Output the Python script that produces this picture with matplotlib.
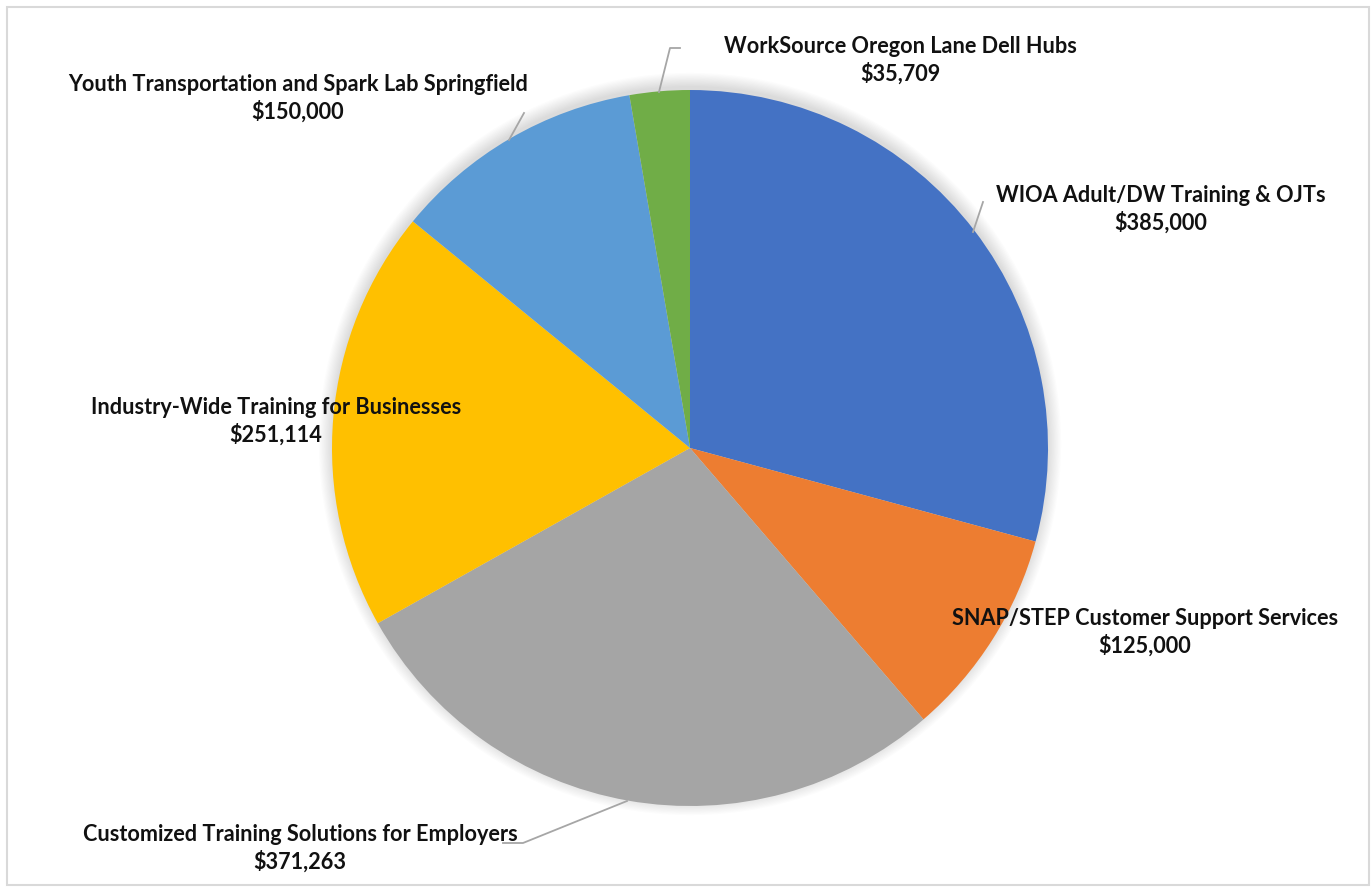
import matplotlib.pyplot as plt
from matplotlib.patches import Circle, Rectangle

# Budget allocations, clockwise from 12 o'clock
categories = [
    "WIOA Adult/DW Training & OJTs",
    "SNAP/STEP Customer Support Services",
    "Customized Training Solutions for Employers",
    "Industry-Wide Training for Businesses",
    "Youth Transportation and Spark Lab Springfield",
    "WorkSource Oregon Lane Dell Hubs",
]
amounts = [385000, 125000, 371263, 251114, 150000, 35709]
colors = ["#4472C4", "#ED7D31", "#A5A5A5", "#FFC000", "#5B9BD5", "#70AD47"]

W, H = 1372, 888
fig = plt.figure(figsize=(W / 100, H / 100), dpi=100)
ax = fig.add_axes([0, 0, 1, 1])

def py(y):
    # pixel rows counted from the top
    return H - y

cx, cy, r = 690, py(448), 358

# soft shadow behind the pie, leaning upwards
for i in range(12):
    ax.add_patch(Circle((cx, cy + 4), r + i * 1.2, color="black",
                        alpha=0.012, lw=0, zorder=0))

ax.pie(amounts, colors=colors, startangle=90, counterclock=False,
       center=(cx, cy), radius=r, frame=True,
       wedgeprops=dict(linewidth=0))
ax.set_xlim(0, W)
ax.set_ylim(0, H)
ax.axis("off")

# label centre x, midpoint y of the two lines (px from top)
label_pos = [
    (1161, 209),
    (1145, 632),
    (300, 848),
    (276, 421),
    (298, 98),
    (900, 60),
]
for name, amt, (lx, ly) in zip(categories, amounts, label_pos):
    ax.text(lx, py(ly), f"{name}\n${amt:,}", ha="center", va="center",
            fontsize=15.6, fontweight="bold", family="Lato",
            linespacing=1.3, color="#111111")

# leader lines
leaders = [
    [(973, 232), (983, 202)],
    [(627, 801), (523, 843), (503, 843)],
    [(509, 140), (524, 113)],
    [(659, 92), (670, 48), (680, 48)],
]
for pts in leaders:
    xs = [p[0] for p in pts]
    ys = [py(p[1]) for p in pts]
    ax.plot(xs, ys, color="#A6A6A6", lw=1.3, zorder=5)

# chart area border
ax.add_patch(Rectangle((7, py(885)), 1362, 878, fill=False,
                       edgecolor="#D9D9D9", lw=1.5))

fig.savefig("out.png", dpi=100)
